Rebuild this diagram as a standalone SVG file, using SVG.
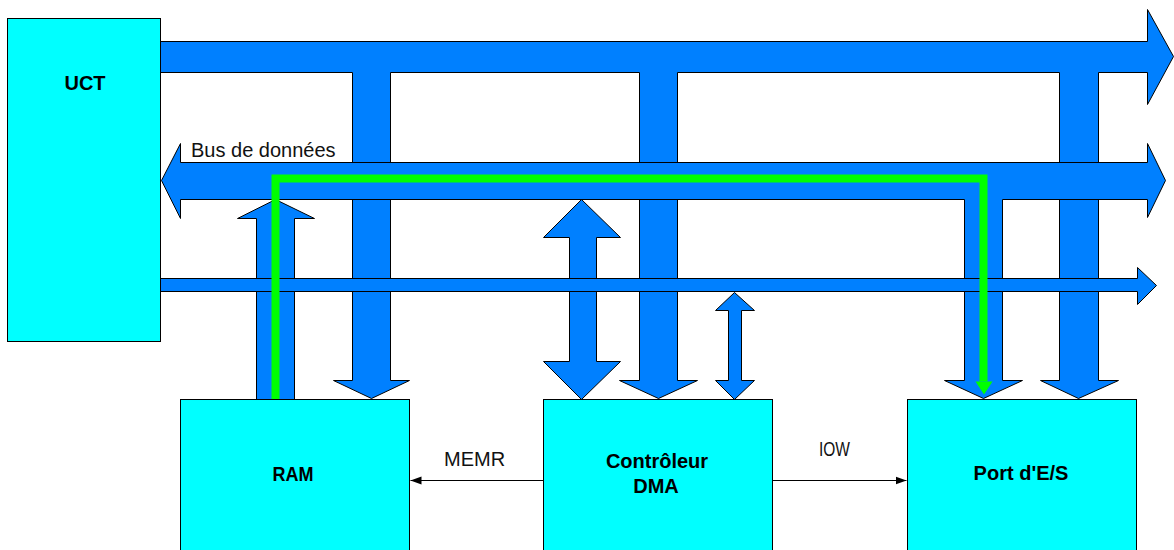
<svg xmlns="http://www.w3.org/2000/svg" width="1174" height="550" viewBox="0 0 1174 550">
  <style>
    .bus { fill: #0080ff; stroke: #000; stroke-width: 1; stroke-linejoin: miter; }
    .box { fill: #00ffff; stroke: #000; stroke-width: 1; }
    .title { font-family: "Liberation Sans", Arial, sans-serif; font-weight: bold; font-size: 20px; fill: #000; text-anchor: middle; }
    .lbl { font-family: "Liberation Sans", Arial, sans-serif; font-size: 20px; fill: #111; }
    .sig { stroke: #000; stroke-width: 1.2; fill: none; }
    .path { stroke: #00ff00; stroke-width: 8; fill: none; stroke-linejoin: miter; stroke-linecap: butt; }
  </style>
  <defs>
    <marker id="tip" markerWidth="12" markerHeight="10" refX="11" refY="5" orient="auto" markerUnits="userSpaceOnUse">
      <path d="M0,1 L11,5 L0,9 Z" fill="#000"/>
    </marker>
  </defs>
  <rect width="1174" height="550" fill="#fff"/>

  <g id="connectors" transform="translate(0.5,0.5)">
    <!-- address bus with its three drops -->
    <polygon class="bus" points="160,41 1147,41 1147,9 1173,56 1147,104 1147,72 1098,72 1098,380 1118,380 1078,398 1040,380 1059,380 1059,72 677,72 677,380 697,380 658,398 619,380 639,380 639,72 390,72 390,380 409,380 371,398 333,380 352,380 352,72 160,72"/>
    <!-- RAM to data bus -->
    <polygon class="bus" points="275,199 314,218 294,218 294,399 256,399 256,218 237,218"/>
    <!-- DMA data link (bidirectional) -->
    <polygon class="bus" points="581,199 620,237 596,237 596,361 620,361 581,399 543,361 569,361 569,237 543,237"/>
    <!-- data bus with drop to the I/O port -->
    <polygon class="bus" points="161,180 180,143 180,162 1147,162 1147,143 1165,180 1147,217 1147,199 1002,199 1002,380 1022,380 983,398 944,380 964,380 964,199 180,199 180,218"/>
    <!-- control bus -->
    <polygon class="bus" points="160,278 1137,278 1137,267 1156,285 1137,304 1137,291 160,291"/>
    <!-- DMA control link (bidirectional) -->
    <polygon class="bus" points="734,292 754,310 741,310 741,380 754,380 734,399 715,380 728,380 728,310 715,310"/>
    <!-- DMA transfer path -->
    <polyline class="path" points="275,399 275,178 983,178 983,381"/>
    <polygon points="975,381 992,381 983.5,394" fill="#00ff00"/>
    <!-- control signals -->
    <line class="sig" x1="543" y1="480" x2="410" y2="480" marker-end="url(#tip)"/>
    <line class="sig" x1="772" y1="480" x2="906" y2="480" marker-end="url(#tip)"/>
  </g>

  <g id="uct">
    <rect class="box" x="7.5" y="18.5" width="153" height="323"/>
    <text class="title" x="85" y="90" font-size="21">UCT</text>
  </g>
  <g id="ram">
    <rect class="box" x="180.5" y="399.5" width="229" height="170"/>
    <text class="title" x="293" y="481" textLength="41" lengthAdjust="spacingAndGlyphs">RAM</text>
  </g>
  <g id="dma">
    <rect class="box" x="543.5" y="399.5" width="229" height="170"/>
    <text class="title" x="657" y="468">Contrôleur</text>
    <text class="title" x="656" y="493">DMA</text>
  </g>
  <g id="port">
    <rect class="box" x="907.5" y="399.5" width="229" height="170"/>
    <text class="title" x="1021" y="480">Port d'E/S</text>
  </g>

  <g id="labels">
    <text class="lbl" x="191" y="157">Bus de données</text>
    <text class="lbl" x="444" y="466">MEMR</text>
    <text class="lbl" x="819" y="456" textLength="31" lengthAdjust="spacingAndGlyphs">IOW</text>
  </g>
</svg>
